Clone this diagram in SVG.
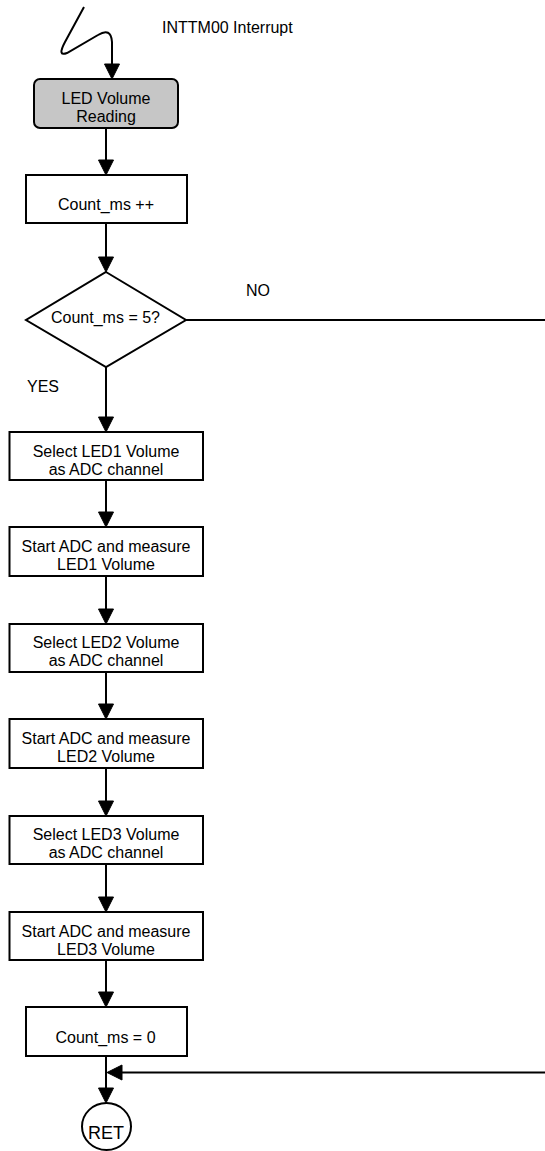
<svg xmlns="http://www.w3.org/2000/svg" width="545" height="1151" viewBox="0 0 545 1151">
<style>
.box{fill:#ffffff;stroke:#000;stroke-width:2}
.term{fill:#c6c6c6;stroke:#000;stroke-width:2}
.ln{fill:none;stroke:#000;stroke-width:2}
.ah{fill:#000;stroke:#000;stroke-width:1}
text{font-family:"Liberation Sans",Arial,sans-serif;font-size:16px;fill:#000}
.c{text-anchor:middle}
</style>
<g id="connectors">
<path class="ln" d="M84 7 L65 42 Q57 57 67 53 L98 35 Q111 27 112 42 L112 66"/>
<polygon class="ah" points="104.5,64 119.5,64 112,79"/>
<line class="ln" x1="106" y1="128" x2="106" y2="162"/>
<polygon class="ah" points="98.5,160 113.5,160 106,175"/>
<line class="ln" x1="106" y1="223" x2="106" y2="259"/>
<polygon class="ah" points="98.5,257 113.5,257 106,272"/>
<line class="ln" x1="106" y1="367" x2="106" y2="419"/>
<polygon class="ah" points="98.5,417 113.5,417 106,432"/>
<line class="ln" x1="186" y1="320" x2="545" y2="320"/>
<line class="ln" x1="106" y1="480" x2="106" y2="514"/>
<polygon class="ah" points="98.5,512 113.5,512 106,527"/>
<line class="ln" x1="106" y1="576" x2="106" y2="611"/>
<polygon class="ah" points="98.5,609 113.5,609 106,624"/>
<line class="ln" x1="106" y1="672" x2="106" y2="706"/>
<polygon class="ah" points="98.5,704 113.5,704 106,719"/>
<line class="ln" x1="106" y1="768" x2="106" y2="803"/>
<polygon class="ah" points="98.5,801 113.5,801 106,816"/>
<line class="ln" x1="106" y1="864" x2="106" y2="899"/>
<polygon class="ah" points="98.5,897 113.5,897 106,912"/>
<line class="ln" x1="106" y1="960" x2="106" y2="994"/>
<polygon class="ah" points="98.5,992 113.5,992 106,1007"/>
<line class="ln" x1="106" y1="1056" x2="106" y2="1090"/>
<polygon class="ah" points="98.5,1088 113.5,1088 106,1103"/>
<line class="ln" x1="545" y1="1072.5" x2="120" y2="1072.5"/>
<polygon class="ah" points="122,1065 122,1080 107,1072.5"/>
<text x="246" y="296">NO</text>
<text x="27" y="392">YES</text>
</g>
<g id="interrupt-label">
<text x="162" y="33">INTTM00 Interrupt</text>
</g>
<g id="start">
<rect class="term" x="34" y="79" width="144" height="49" rx="6"/>
<text class="c" x="106" y="104">LED Volume</text>
<text class="c" x="106" y="122">Reading</text>
</g>
<g id="inc">
<rect class="box" x="26" y="175" width="161" height="48"/>
<text class="c" x="106" y="210">Count_ms ++</text>
</g>
<g id="decision">
<polygon class="box" points="106,272 186,320 106,367 26,320"/>
<text class="c" x="105.5" y="323">Count_ms = 5?</text>
</g>
<g id="sel1">
<rect class="box" x="9.5" y="432" width="193.5" height="48"/>
<text class="c" x="106" y="456.5">Select LED1 Volume</text>
<text class="c" x="106" y="474.5">as ADC channel</text>
</g>
<g id="adc1">
<rect class="box" x="9.5" y="527" width="193.5" height="49"/>
<text class="c" x="106" y="551.5">Start ADC and measure</text>
<text class="c" x="106" y="569.5">LED1 Volume</text>
</g>
<g id="sel2">
<rect class="box" x="9.5" y="624" width="193.5" height="48"/>
<text class="c" x="106" y="647.5">Select LED2 Volume</text>
<text class="c" x="106" y="665.5">as ADC channel</text>
</g>
<g id="adc2">
<rect class="box" x="9.5" y="719" width="193.5" height="49"/>
<text class="c" x="106" y="743.5">Start ADC and measure</text>
<text class="c" x="106" y="761.5">LED2 Volume</text>
</g>
<g id="sel3">
<rect class="box" x="9.5" y="816" width="193.5" height="48"/>
<text class="c" x="106" y="840">Select LED3 Volume</text>
<text class="c" x="106" y="858">as ADC channel</text>
</g>
<g id="adc3">
<rect class="box" x="9.5" y="912" width="193.5" height="48"/>
<text class="c" x="106" y="936.5">Start ADC and measure</text>
<text class="c" x="106" y="954.5">LED3 Volume</text>
</g>
<g id="reset">
<rect class="box" x="26" y="1007" width="161" height="49"/>
<text class="c" x="105.5" y="1043">Count_ms = 0</text>
</g>
<g id="ret">
<ellipse class="box" cx="106.5" cy="1126.5" rx="24.5" ry="23.5"/>
<text class="c" x="106" y="1139" style="font-size:18px">RET</text>
</g>
</svg>
